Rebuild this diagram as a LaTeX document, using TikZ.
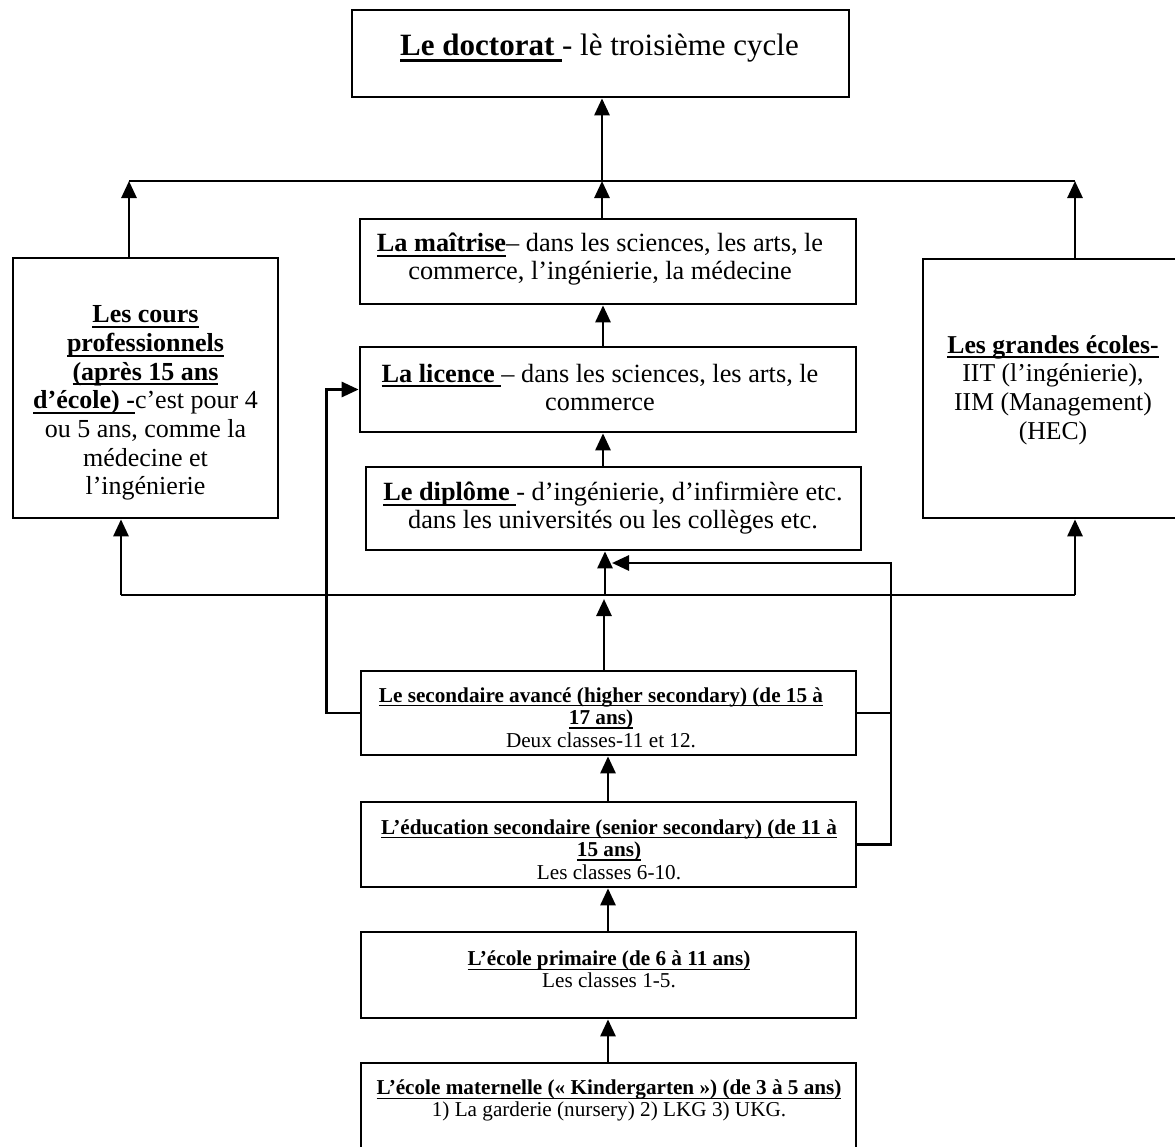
\documentclass[tikz,border=0pt]{standalone}
\usepackage{fontspec}
\setmainfont{Liberation Serif}
\usetikzlibrary{arrows.meta}
\newsavebox{\ubbox}
\newcommand{\ub}[1]{\sbox{\ubbox}{\textbf{#1}}\leavevmode\rlap{\rule[-0.2em]{\wd\ubbox}{0.07em}}\usebox{\ubbox}}
\begin{document}
\begin{tikzpicture}[x=1pt,y=-1pt,
  boxnode/.style={draw,line width=2.7pt,inner sep=0pt},
  txt/.style={align=center,inner sep=0pt},
  big/.style={font=\fontsize{26.3}{28}\selectfont},
  small/.style={font=\fontsize{21.2}{22.5}\selectfont},
  conn/.style={line width=2.8pt},
  arr/.style={conn,-{Triangle[length=17pt,width=15pt]}}]
\useasboundingbox (0,0) rectangle (1175,1146);
% boxes (pixel coordinates)
\node[boxnode,minimum width=497pt,minimum height=87pt] (doc) at (600.5,53.5) {};
\node[boxnode,minimum width=496pt,minimum height=85pt] (mait) at (608,261.5) {};
\node[boxnode,minimum width=496pt,minimum height=85pt] (lic) at (608,389.5) {};
\node[boxnode,minimum width=495pt,minimum height=83pt] (dip) at (613.5,508.5) {};
\node[boxnode,minimum width=265pt,minimum height=260pt] (cours) at (145.5,388) {};
\node[boxnode,minimum width=257pt,minimum height=259pt] (gde) at (1051.5,388.5) {};
\node[boxnode,minimum width=495pt,minimum height=84pt] (hs) at (608.5,713) {};
\node[boxnode,minimum width=495pt,minimum height=85pt] (es) at (608.5,844.5) {};
\node[boxnode,minimum width=495pt,minimum height=86pt] (prim) at (608.5,975) {};
\node[boxnode,minimum width=495pt,minimum height=87pt] (mat) at (608.5,1106.5) {};
% texts
\node[txt,font=\fontsize{31}{34}\selectfont] (tdoc) at (599.5,48) {\ub{Le doctorat }- lè troisième cycle};
\node[txt,big] (tmait) at (600,259) {\ub{La maîtrise}– dans les sciences, les arts, le\\commerce, l’ingénierie, la médecine};
\node[txt,big] (tlic) at (600,387) {\ub{La licence }– dans les sciences, les arts, le\\commerce};
\node[txt,big] (tdip) at (613,508) {\ub{Le diplôme }- d’ingénierie, d’infirmière etc.\\dans les universités ou les collèges etc.};
\node[txt,font=\fontsize{26}{28.7}\selectfont] (tcours) at (145.5,403) {\ub{Les cours}\\\ub{professionnels}\\\ub{(après 15 ans}\\\ub{d’école) -}c’est pour 4\\ou 5 ans, comme la\\médecine et\\l’ingénierie};
\node[txt,font=\fontsize{25.7}{28.7}\selectfont] (tgde) at (1053,390) {\ub{Les grandes écoles-}\\IIT (l’ingénierie),\\IIM (Management)\\(HEC)};
\node[txt,small] (ths) at (601,717.5) {\ub{Le secondaire avancé (higher secondary) (de 15 à}\\\ub{17 ans)}\\Deux classes-11 et 12.};
\node[txt,small] (tes) at (609,849.5) {\ub{L’éducation secondaire (senior secondary) (de 11 à}\\\ub{15 ans)}\\Les classes 6-10.};
\node[txt,small,font=\fontsize{21.2}{21.5}\selectfont] (tprim) at (609,969.5) {\ub{L’école primaire (de 6 à 11 ans)}\\Les classes 1-5.};
\node[txt,small,font=\fontsize{21.2}{21.5}\selectfont] (tmat) at (609,1100.5) {\ub{L’école maternelle (« Kindergarten ») (de 3 à 5 ans)}\\1) La garderie (nursery) 2) LKG 3) UKG.};
% bus coordinates
\coordinate (tbL) at (129,181);
\coordinate (tbC) at (602,181);
\coordinate (tbR) at (1075,181);
\coordinate (bbL) at (121,595);
\coordinate (bbC) at (605,595);
\coordinate (bbR) at (1075,595);
\coordinate (rj) at (891,563);
\coordinate (din) at (612,563);
% top bus
\draw[conn] (tbL) -- (tbR);
\draw[arr] (cours.north -| tbL) -- (tbL);
\draw[arr] (gde.north -| tbR) -- (tbR);
\draw[arr] (mait.north -| tbC) -- (tbC);
\draw[arr] (tbC) -- (doc.south -| tbC);
% central chain
\draw[arr] (lic.north -| 603,0) -- (mait.south -| 603,0);
\draw[arr] (dip.north -| 603,0) -- (lic.south -| 603,0);
% bottom bus
\draw[conn] (bbL) -- (bbR);
\draw[arr] (bbL) -- (cours.south -| bbL);
\draw[arr] (bbR) -- (gde.south -| bbR);
\draw[arr] (bbC) -- (dip.south -| bbC);
\draw[arr] (hs.north -| 604,0) -- (604,599);
% left bypass
\draw[arr] (hs.west) -- ++(-33,0) |- (lic.west);
% right bypass
\draw[conn] (hs.east) -- (hs.east -| rj);
\draw[arr] (es.east) -| (rj) -- (din);
% lower chain
\draw[arr] (es.north -| 608,0) -- (hs.south -| 608,0);
\draw[arr] (prim.north -| 608,0) -- (es.south -| 608,0);
\draw[arr] (mat.north -| 608,0) -- (prim.south -| 608,0);
\end{tikzpicture}
\end{document}
